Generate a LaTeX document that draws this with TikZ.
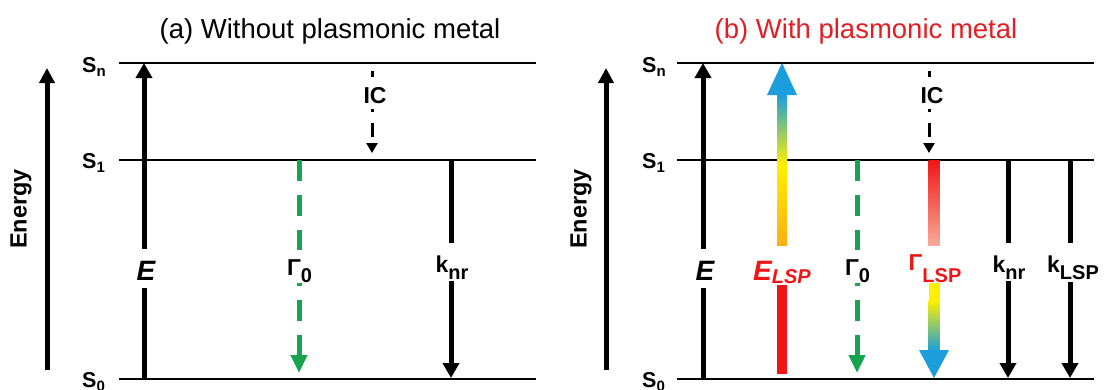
\documentclass[tikz,border=0pt]{standalone}
\usepackage{fontspec}
\setmainfont{Liberation Sans}
\usetikzlibrary{arrows.meta}

\definecolor{titlered}{RGB}{225,30,36}
\definecolor{decaygreen}{RGB}{24,164,78}
\definecolor{lspred}{RGB}{240,22,22}
\definecolor{lsppale}{RGB}{250,178,160}
\definecolor{lsporange}{RGB}{250,170,20}
\definecolor{lspyellow}{RGB}{255,240,0}
\definecolor{lspgreen}{RGB}{130,200,70}
\definecolor{lspblue}{RGB}{28,158,220}

\newcommand{\levsub}[1]{\raisebox{-4bp}{\fontsize{15bp}{15bp}\selectfont #1}}
\newcommand{\ratesub}[2][7bp]{\raisebox{-#1}{\fontsize{20bp}{20bp}\selectfont #2}}

\begin{document}
\begin{tikzpicture}[x=1bp, y=-1bp,
    lvline/.style={line width=2bp},
    rate/.style={line width=5bp, -{Triangle[width=16bp,length=15bp]}},
    decay/.style={line width=5bp, draw=decaygreen, dash pattern=on 21bp off 14bp,
        -{Triangle[width=16bp,length=18bp]}},
    conv/.style={line width=3bp, dash pattern=on 6bp off 32bp on 3bp off 11bp on 14bp off 30bp,
        -{Triangle[width=11bp,length=10bp]}},
    ratelab/.style={font=\bfseries\fontsize{23bp}{27bp}\selectfont, anchor=base, fill=white,
        inner xsep=1bp, inner ysep=0pt},
    labgap/.style 2 args={text height=#1, text depth=#2},
    levlab/.style={font=\bfseries\fontsize{21.5bp}{25bp}\selectfont, anchor=base west, inner sep=0pt},
    axlab/.style={font=\bfseries\fontsize{23.5bp}{27bp}\selectfont, rotate=90, inner sep=0pt},
    paneltitle/.style={font=\fontsize{27.5bp}{33bp}\selectfont, anchor=base, inner sep=0pt}]
    \useasboundingbox (0,0) rectangle (1109,389);

    % (a) without plasmonic metal
    \node[paneltitle] (titleA) at (330,38) {(a) Without plasmonic metal};
    \coordinate (axA-bot) at (47,370);
    \coordinate (axA-top) at (47,68);
    \draw[rate, -{Triangle[width=15bp,length=15bp]}] (axA-bot) -- (axA-top);
    \node[axlab] (energyA) at (21,209) {Energy};

    \coordinate (SnA-l) at (119,63);  \coordinate (SnA-r) at (536,63);
    \coordinate (S1A-l) at (119,160); \coordinate (S1A-r) at (536,160);
    \coordinate (S0A-l) at (119,379); \coordinate (S0A-r) at (536,379);
    \draw[lvline] (SnA-l) -- (SnA-r);
    \draw[lvline] (S1A-l) -- (S1A-r);
    \draw[lvline] (S0A-l) -- (S0A-r);
    \node[levlab] (SnA) at (82,72) {S\levsub{n}};
    \node[levlab] (S1A) at (82,168) {S\levsub{1}};
    \node[levlab] (S0A) at (82,387) {S\levsub{0}};

    \coordinate (EA-bot) at (144,379);  \coordinate (EA-top) at (144,63);
    \coordinate (ICA-top) at (372,71);  \coordinate (ICA-bot) at (372,153);
    \coordinate (G0A-top) at (299,160); \coordinate (G0A-bot) at (299,373);
    \coordinate (knrA-top) at (451,160); \coordinate (knrA-bot) at (451,378);
    \draw[rate] (EA-bot) -- (EA-top);
    \draw[conv] (ICA-top) -- (ICA-bot);
    \draw[decay] (G0A-top) -- (G0A-bot);
    \draw[rate] (knrA-top) -- (knrA-bot);

    \node[ratelab, labgap={31bp}{8bp}, font=\bfseries\itshape\fontsize{28bp}{32bp}\selectfont]
        (EA-lab) at (146,280) {E};
    \node[ratelab, labgap={19bp}{4bp}, font=\bfseries\fontsize{23bp}{27bp}\selectfont]
        (ICA-lab) at (375,103) {IC};
    \node[ratelab, labgap={25bp}{8bp}] (G0A-lab) at (299.5,275) {Γ\ratesub{0}};
    \node[ratelab, labgap={29bp}{9bp}] (knrA-lab) at (452,272) {k\ratesub{nr}};

    % (b) with plasmonic metal
    \node[paneltitle, text=titlered] (titleB) at (866,38) {(b) With plasmonic metal};
    \coordinate (axB-bot) at (606,370);
    \coordinate (axB-top) at (606,68);
    \draw[rate, -{Triangle[width=15bp,length=15bp]}] (axB-bot) -- (axB-top);
    \node[axlab] (energyB) at (581,209) {Energy};

    \coordinate (SnB-l) at (677,63);  \coordinate (SnB-r) at (1094,63);
    \coordinate (S1B-l) at (677,160); \coordinate (S1B-r) at (1094,160);
    \coordinate (S0B-l) at (677,379); \coordinate (S0B-r) at (1094,379);
    \draw[lvline] (SnB-l) -- (SnB-r);
    \draw[lvline] (S1B-l) -- (S1B-r);
    \draw[lvline] (S0B-l) -- (S0B-r);
    \node[levlab] (SnB) at (642,72) {S\levsub{n}};
    \node[levlab] (S1B) at (642,168) {S\levsub{1}};
    \node[levlab] (S0B) at (642,387) {S\levsub{0}};

    \coordinate (EB-bot) at (703,379);  \coordinate (EB-top) at (703,63);
    \coordinate (ICB-top) at (929,71);  \coordinate (ICB-bot) at (929,153);
    \coordinate (G0B-top) at (857,160); \coordinate (G0B-bot) at (857,373);
    \coordinate (knrB-top) at (1008,160); \coordinate (knrB-bot) at (1008,378);
    \coordinate (klspB-top) at (1070,160); \coordinate (klspB-bot) at (1070,378);
    \draw[rate] (EB-bot) -- (EB-top);
    \draw[conv] (ICB-top) -- (ICB-bot);
    \draw[decay] (G0B-top) -- (G0B-bot);
    \draw[rate] (knrB-top) -- (knrB-bot);
    \draw[rate] (klspB-top) -- (klspB-bot);

    % plasmon excitation bar
    \fill[lspred] (777,374) rectangle (787,252);
    \shade[top color=lspyellow, middle color=lspyellow, bottom color=lsporange] (777,252) rectangle (787,164.5);
    \shade[top color=lspblue, middle color=lspgreen, bottom color=lspyellow] (777,165) rectangle (787,94.5);
    \coordinate (ElspB-tip) at (782,63);
    \fill[lspblue] (ElspB-tip) -- (767,95) -- (797,95) -- cycle;

    % plasmon decay bar
    \shade[top color=lspred, middle color=lspred, bottom color=lsppale] (928.5,160) rectangle (939.5,250);
    \fill[lspyellow] (928.5,278) rectangle (939.5,300.5);
    \shade[top color=lspyellow, middle color=lspgreen, bottom color=lspblue] (928.5,300) rectangle (939.5,351);
    \coordinate (GlspB-tip) at (934,378);
    \fill[lspblue] (GlspB-tip) -- (919,350) -- (949,350) -- cycle;

    \node[ratelab, labgap={31bp}{8bp}, font=\bfseries\itshape\fontsize{28bp}{32bp}\selectfont]
        (EB-lab) at (705,280) {E};
    \node[ratelab, labgap={34bp}{5bp}, text=lspred, font=\bfseries\itshape\fontsize{28bp}{32bp}\selectfont]
        (ElspB-lab) at (782,280) {E\ratesub[3bp]{LSP}};
    \node[ratelab, labgap={19bp}{4bp}, font=\bfseries\fontsize{23bp}{27bp}\selectfont]
        (ICB-lab) at (932,103) {IC};
    \node[ratelab, labgap={25bp}{8bp}] (G0B-lab) at (857.5,275) {Γ\ratesub{0}};
    \node[ratelab, labgap={24bp}{13bp}, text=lspred] (GlspB-lab) at (935,270) {Γ\ratesub[12bp]{LSP}};
    \node[ratelab, labgap={29bp}{9bp}] (knrB-lab) at (1009,272) {k\ratesub{nr}};
    \node[ratelab, labgap={29bp}{10bp}] (klspB-lab) at (1073,272) {k\ratesub{LSP}};
\end{tikzpicture}
\end{document}
